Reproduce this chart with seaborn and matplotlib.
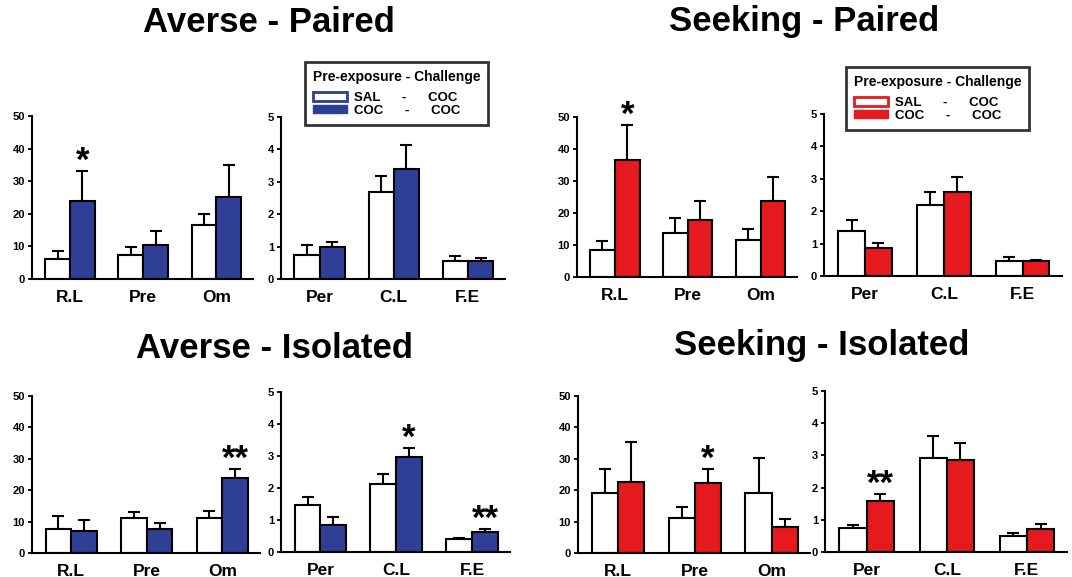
import numpy as np
import pandas as pd
import matplotlib.pyplot as plt
from matplotlib.patches import Patch
import seaborn as sns

regions_left = ['R.L', 'Pre', 'Om']
regions_right = ['Per', 'C.L', 'F.E']
legend_labels = ['SAL      -      COC', 'COC      -      COC']

# Averse - Paired
ap_left_sal = [6.0, 7.5, 16.5]
ap_left_sal_err = [2.5, 2.3, 3.3]
ap_left_coc = [24.0, 10.5, 25.0]
ap_left_coc_err = [9.2, 4.2, 10.0]
ap_left_stars = ['*', '', '']
ap_right_sal = [0.75, 2.7, 0.57]
ap_right_sal_err = [0.3, 0.48, 0.13]
ap_right_coc = [1.0, 3.4, 0.57]
ap_right_coc_err = [0.15, 0.75, 0.08]
ap_right_stars = ['', '', '']

# Seeking - Paired
sp_left_sal = [8.3, 13.8, 11.5]
sp_left_sal_err = [3.0, 4.5, 3.5]
sp_left_coc = [36.5, 17.7, 23.7]
sp_left_coc_err = [11.0, 6.0, 7.6]
sp_left_stars = ['*', '', '']
sp_right_sal = [1.4, 2.2, 0.45]
sp_right_sal_err = [0.32, 0.38, 0.13]
sp_right_coc = [0.85, 2.6, 0.45]
sp_right_coc_err = [0.18, 0.47, 0.05]
sp_right_stars = ['', '', '']

# Averse - Isolated
ai_left_sal = [7.6, 11.0, 11.0]
ai_left_sal_err = [4.1, 1.9, 2.3]
ai_left_coc = [6.9, 7.8, 23.8]
ai_left_coc_err = [3.5, 1.9, 3.0]
ai_left_stars = ['', '', '**']
ai_right_sal = [1.47, 2.12, 0.4]
ai_right_sal_err = [0.26, 0.33, 0.05]
ai_right_coc = [0.85, 2.98, 0.63]
ai_right_coc_err = [0.23, 0.27, 0.09]
ai_right_stars = ['', '*', '**']

# Seeking - Isolated
si_left_sal = [19.2, 11.3, 19.2]
si_left_sal_err = [7.7, 3.4, 10.9]
si_left_coc = [22.5, 22.3, 8.2]
si_left_coc_err = [12.8, 4.4, 2.7]
si_left_stars = ['', '*', '']
si_right_sal = [0.75, 2.93, 0.5]
si_right_sal_err = [0.1, 0.67, 0.08]
si_right_coc = [1.57, 2.85, 0.7]
si_right_coc_err = [0.23, 0.55, 0.18]
si_right_stars = ['**', '', '']

sns.set_style('ticks')
plt.rcParams['font.family'] = ['Liberation Sans', 'DejaVu Sans']
plt.rcParams['font.weight'] = 'bold'
for k in ['text.color', 'axes.labelcolor', 'xtick.color', 'ytick.color',
          'axes.edgecolor']:
    plt.rcParams[k] = 'black'

blue = '#2e3f95'
red = '#e5191e'

W, H = 1072, 577
fig = plt.figure(figsize=(W / 100, H / 100), dpi=100)


def px_rect(x0, x1, ytop, ybot):
    return [x0 / W, 1 - ybot / H, (x1 - x0) / W, (ybot - ytop) / H]


def panel(rect, cats, sal, sal_err, coc, coc_err, stars, ymax, color):
    ax = fig.add_axes(rect)
    df = pd.DataFrame({'region': cats * 2,
                       'group': ['SAL'] * len(cats) + ['COC'] * len(cats),
                       'value': sal + coc})
    sns.barplot(data=df, x='region', y='value', hue='group',
                palette=['white', color], saturation=1, width=0.68,
                edgecolor='black', linewidth=1.5, errorbar=None,
                legend=False, ax=ax, zorder=2)
    for bars, err in zip(ax.containers, [sal_err, coc_err]):
        xs = [b.get_x() + b.get_width() / 2 for b in bars]
        ys = [b.get_height() for b in bars]
        ax.errorbar(xs, ys, yerr=[np.zeros(len(err)), err], fmt='none',
                    ecolor='black', elinewidth=1.5, capsize=4, capthick=1.5,
                    zorder=1)
    for b, e, s in zip(ax.containers[1], coc_err, stars):
        if s:
            ax.text(b.get_x() + b.get_width() / 2, b.get_height() + e, s,
                    ha='center', va='baseline', fontsize=25, clip_on=False)
    ax.set_ylim(0, ymax)
    ax.set_yticks(np.linspace(0, ymax, 6))
    ax.set_xlim(-0.52, 2.5)
    ax.set_xlabel('')
    ax.set_ylabel('')
    sns.despine(ax=ax)
    for sp in ['left', 'bottom']:
        ax.spines[sp].set_linewidth(1.5)
    ax.tick_params(axis='x', length=0, labelsize=12.5, pad=8)
    ax.tick_params(axis='y', length=3, width=1.3, labelsize=8, pad=2)
    return ax


panel(px_rect(32, 253, 116, 279), regions_left, ap_left_sal, ap_left_sal_err,
      ap_left_coc, ap_left_coc_err, ap_left_stars, 50, blue)
panel(px_rect(281, 505, 117, 279), regions_right, ap_right_sal, ap_right_sal_err,
      ap_right_coc, ap_right_coc_err, ap_right_stars, 5, blue)
panel(px_rect(577, 797, 117, 277), regions_left, sp_left_sal, sp_left_sal_err,
      sp_left_coc, sp_left_coc_err, sp_left_stars, 50, red)
panel(px_rect(824, 1062, 114, 276), regions_right, sp_right_sal, sp_right_sal_err,
      sp_right_coc, sp_right_coc_err, sp_right_stars, 5, red)
panel(px_rect(32, 260, 396, 553), regions_left, ai_left_sal, ai_left_sal_err,
      ai_left_coc, ai_left_coc_err, ai_left_stars, 50, blue)
panel(px_rect(281, 510, 392, 552), regions_right, ai_right_sal, ai_right_sal_err,
      ai_right_coc, ai_right_coc_err, ai_right_stars, 5, blue)
panel(px_rect(578, 810, 396, 553), regions_left, si_left_sal, si_left_sal_err,
      si_left_coc, si_left_coc_err, si_left_stars, 50, red)
panel(px_rect(825, 1067, 391, 552), regions_right, si_right_sal, si_right_sal_err,
      si_right_coc, si_right_coc_err, si_right_stars, 5, red)

titles = [('Averse - Paired', 269, 23), ('Seeking - Paired', 804, 22),
          ('Averse - Isolated', 274, 348), ('Seeking - Isolated', 822, 345)]
for t, x, y in titles:
    fig.text(x / W, 1 - y / H, t, ha='center', va='center', fontsize=25,
             fontweight='bold')

for color, x0, y0 in [(blue, 305, 62), (red, 846, 67)]:
    handles = [Patch(facecolor='white', edgecolor=color, linewidth=2),
               Patch(facecolor=color, edgecolor=color)]
    leg = fig.legend(handles, legend_labels, title='Pre-exposure - Challenge',
                     loc='upper left', bbox_to_anchor=(x0 / W, 1 - y0 / H),
                     borderaxespad=0, frameon=True, fancybox=False,
                     edgecolor='black', fontsize=9.5, title_fontsize=10,
                     handlelength=2.6, handleheight=0.6, labelspacing=0.05,
                     borderpad=0.6, handletextpad=0.5, alignment='left')
    leg.get_frame().set_linewidth(2)
    leg.get_title().set_fontweight('bold')
    leg._legend_box.sep = 6

fig.savefig('out.png', dpi=100)
